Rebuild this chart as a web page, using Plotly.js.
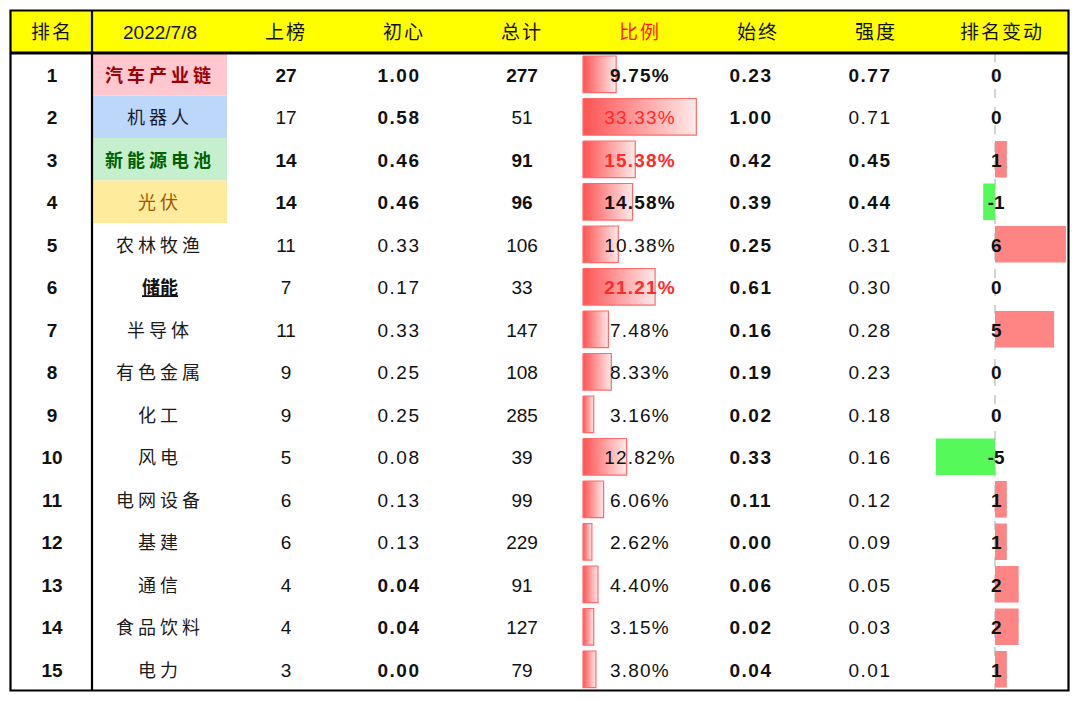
<!DOCTYPE html>
<html>
<head>
<meta charset="utf-8">
<script src="https://cdn.plot.ly/plotly-3.0.1.min.js"></script>
<style>html,body{margin:0;padding:0;background:#fff;}#chart{width:1080px;height:701px;}</style>
</head>
<body>
<div id="chart"></div>
<script>
// ---- data ----
const headers = ['排名', '2022/7/8', '上榜', '初心', '总计', '比例', '始终', '强度', '排名变动'];
const ranks = [1, 2, 3, 4, 5, 6, 7, 8, 9, 10, 11, 12, 13, 14, 15];
const names = ['汽车产业链', '机器人', '新能源电池', '光伏', '农林牧渔', '储能', '半导体', '有色金属', '化工', '风电', '电网设备', '基建', '通信', '食品饮料', '电力'];
const shangbang = [27, 17, 14, 14, 11, 7, 11, 9, 9, 5, 6, 6, 4, 4, 3];
const chuxin = [1.00, 0.58, 0.46, 0.46, 0.33, 0.17, 0.33, 0.25, 0.25, 0.08, 0.13, 0.13, 0.04, 0.04, 0.00];
const zongji = [277, 51, 91, 96, 106, 33, 147, 108, 285, 39, 99, 229, 91, 127, 79];
const bili = [9.75, 33.33, 15.38, 14.58, 10.38, 21.21, 7.48, 8.33, 3.16, 12.82, 6.06, 2.62, 4.40, 3.15, 3.80];
const shizhong = [0.23, 1.00, 0.42, 0.39, 0.25, 0.61, 0.16, 0.19, 0.02, 0.33, 0.11, 0.00, 0.06, 0.02, 0.04];
const qiangdu = [0.77, 0.71, 0.45, 0.44, 0.31, 0.30, 0.28, 0.23, 0.18, 0.16, 0.12, 0.09, 0.05, 0.03, 0.01];
const rankChange = [0, 0, 1, -1, 6, 0, 5, 0, 0, -5, 1, 1, 2, 2, 1];

// ---- styles (kept separate from data) ----
const boldShangbang = [1,0,1,1,0,0,0,0,0,0,0,0,0,0,0];
const boldChuxin    = [1,1,1,1,0,0,0,0,0,0,0,0,1,1,1];
const boldZongji    = [1,0,1,1,0,0,0,0,0,0,0,0,0,0,0];
const boldBili      = [1,0,1,1,0,1,0,0,0,0,0,0,0,0,0];
const redBili       = [0,1,1,0,0,1,0,0,0,0,0,0,0,0,0];
const boldQiangdu   = [1,0,1,1,0,0,0,0,0,0,0,0,0,0,0];
const nameStyles = {
  0: {bg: '#ffc7ce', color: '#9c0006', bold: true},
  1: {bg: '#bdd7fb', color: '#1a1a2e', bold: false},
  2: {bg: '#c6efce', color: '#006100', bold: true},
  3: {bg: '#ffeb9c', color: '#9c5700', bold: false}
};
const colX = {rank: 52, name: 160, shangbang: 286, chuxin: 399, zongji: 522, bili: 640, shizhong: 751, qiangdu: 870};
const headerX = [52, 160, 286, 404, 522, 640, 758, 876, 1002];
const FONT = 'Liberation Sans, Arial, Noto Sans CJK SC, sans-serif';
const CJK = 'Noto Sans CJK SC, sans-serif';
const TY = 0.07; // small downward nudge of text baseline (rows)

const b = (s, on) => on ? '<b>' + s + '</b>' : s;
const sp = (s, px) => '<span style="letter-spacing:' + px + 'px">' + s + '</span>';
const rows = ranks.map((r, i) => i + 1);
const trow = rows.map(r => r + TY);
const traces = [];

const PX_BILI = 3.40, ZERO_BILI = 583;
const PX_CHG = 11.83, ZERO_CHG = 995;

// ratio bars with horizontal gradient
bili.forEach((v, i) => {
  const y = rows[i], h = 0.43;
  traces.push({
    type: 'scatter', mode: 'lines', xaxis: 'x2', yaxis: 'y',
    x: [0, v, v, 0, 0], y: [y - h, y - h, y + h, y + h, y - h],
    fill: 'toself', fillcolor: '#ff9a9a',
    fillgradient: {type: 'horizontal', colorscale: [[0, '#ff5252'], [1, '#ffeaea']]},
    line: {color: '#ff6b6b', width: 1.2},
    hoverinfo: 'skip', showlegend: false
  });
});

// rank change bars
traces.push({
  type: 'bar', orientation: 'h', xaxis: 'x3', yaxis: 'y',
  x: rankChange, y: rows, width: 0.86,
  marker: {color: rankChange.map(v => v < 0 ? '#55fa5a' : '#ff8585'), line: {width: 0}},
  hoverinfo: 'skip', showlegend: false
});

function textTrace(xs, ys, texts, colors, size, family, extra) {
  return Object.assign({
    type: 'scatter', mode: 'text', xaxis: 'x', yaxis: 'y',
    x: xs, y: ys, text: texts, textposition: 'middle center',
    textfont: {family: family || FONT, size: size, color: colors},
    hoverinfo: 'skip', showlegend: false, cliponaxis: false
  }, extra || {});
}

// header
traces.push(textTrace(headerX, headers.map(() => TY), headers.map((h, i) => i === 1 ? h : sp(h, 2)),
  headers.map((h, i) => i === 5 ? '#ff1a1a' : '#111'), 19, FONT));

// rank col
traces.push(textTrace(rows.map(() => colX.rank), trow, ranks.map(r => '<b>' + r + '</b>'), '#111', 19));

// name col (except underlined one)
const uIdx = names.indexOf('储能');
const nIdx = rows.map((r, i) => i).filter(i => i !== uIdx);
traces.push(textTrace(nIdx.map(() => colX.name), nIdx.map(i => trow[i]),
  nIdx.map(i => sp(b(names[i], nameStyles[i] && nameStyles[i].bold), 4)),
  nIdx.map(i => nameStyles[i] ? nameStyles[i].color : '#1a1a1a'), 18, CJK));
traces.push(textTrace([colX.name], [trow[uIdx]], ['<b>' + names[uIdx] + '</b>'], '#111', 18, CJK,
  {textfont: {family: CJK, size: 18, color: '#111', lineposition: 'under'}}));

traces.push(textTrace(rows.map(() => colX.shangbang), trow, shangbang.map((v, i) => b(String(v), boldShangbang[i])), '#111', 19));
traces.push(textTrace(rows.map(() => colX.chuxin), trow, chuxin.map((v, i) => sp(b(v.toFixed(2), boldChuxin[i]), 1.5)), '#111', 19));
traces.push(textTrace(rows.map(() => colX.zongji), trow, zongji.map((v, i) => b(String(v), boldZongji[i])), '#111', 19));
// ratio labels on the ratio axis so they sit above the bars
traces.push(Object.assign(textTrace(rows.map(() => (colX.bili - ZERO_BILI) / PX_BILI), trow,
  bili.map((v, i) => sp(b(v.toFixed(2) + '%', boldBili[i]), 1.2)),
  redBili.map(r => r ? '#ff2a2a' : '#111'), 19), {xaxis: 'x2'}));
traces.push(textTrace(rows.map(() => colX.shizhong), trow, shizhong.map(v => sp('<b>' + v.toFixed(2) + '</b>', 1.5)), '#111', 19));
traces.push(textTrace(rows.map(() => colX.qiangdu), trow, qiangdu.map((v, i) => sp(b(v.toFixed(2), boldQiangdu[i]), 1.5)), '#111', 19));

// rank change labels (on change axis, centred at zero)
traces.push(Object.assign(textTrace(rows.map(() => 0.1), trow, rankChange.map(v => '<b>' + v + '</b>'), '#111', 19), {xaxis: 'x3'}));

// ---- layout ----
const shapes = [];
shapes.push({type: 'rect', xref: 'x', yref: 'y', x0: 10, x1: 1069, y0: -0.5, y1: 0.5, fillcolor: '#ffff00', line: {width: 0}, layer: 'below'});
Object.keys(nameStyles).forEach(k => {
  const r = rows[+k];
  shapes.push({type: 'rect', xref: 'x', yref: 'y', x0: 93, x1: 227, y0: r - 0.5, y1: r + 0.5, fillcolor: nameStyles[k].bg, line: {width: 0}, layer: 'below'});
});
shapes.push({type: 'line', xref: 'x3', yref: 'y', x0: 0, x1: 0, y0: 0.5, y1: 15.5, line: {color: '#a8a8a8', width: 1, dash: 'dash'}, layer: 'below'});
shapes.push({type: 'rect', xref: 'x', yref: 'y', x0: 10.5, x1: 1068.5, y0: -0.5, y1: 15.5, line: {color: '#000', width: 2.2}, fillcolor: 'rgba(0,0,0,0)'});
shapes.push({type: 'line', xref: 'x', yref: 'y', x0: 10.5, x1: 1068.5, y0: 0.5, y1: 0.5, line: {color: '#000', width: 3}});
shapes.push({type: 'line', xref: 'x', yref: 'y', x0: 92, x1: 92, y0: -0.5, y1: 15.5, line: {color: '#000', width: 2.2}});

const hidden = {visible: false, fixedrange: true, showgrid: false, zeroline: false};
const layout = {
  width: 1080, height: 701,
  margin: {l: 0, r: 0, t: 0, b: 0, pad: 0},
  paper_bgcolor: '#ffffff', plot_bgcolor: '#ffffff',
  showlegend: false,
  xaxis: Object.assign({range: [0, 1080]}, hidden),
  xaxis2: Object.assign({overlaying: 'x', anchor: 'y', range: [-ZERO_BILI / PX_BILI, (1080 - ZERO_BILI) / PX_BILI]}, hidden),
  xaxis3: Object.assign({overlaying: 'x', anchor: 'y', range: [-ZERO_CHG / PX_CHG, (1080 - ZERO_CHG) / PX_CHG]}, hidden),
  yaxis: Object.assign({range: [(701 - 31.75) / 42.5, -31.75 / 42.5]}, hidden),
  shapes: shapes,
  font: {family: FONT}
};
Plotly.newPlot('chart', traces, layout, {displayModeBar: false, staticPlot: true});
</script>
</body>
</html>
